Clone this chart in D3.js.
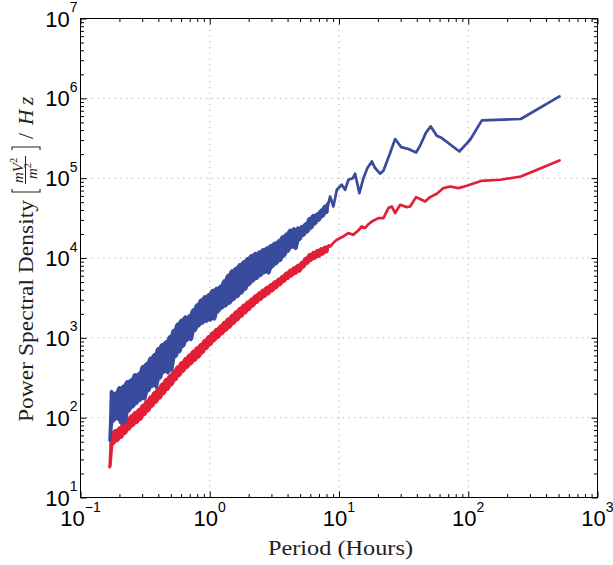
<!DOCTYPE html>
<html>
<head>
<meta charset="utf-8">
<script src="https://cdn.jsdelivr.net/npm/d3@7"></script>
<style>
  html, body { margin: 0; padding: 0; background: #ffffff; }
  svg { display: block; }
</style>
</head>
<body>
<svg id="chart" width="613" height="565"></svg>
<script>
// ---- Spectrum values (period in hours, PSD in (mV²/m²)/Hz) ----

// Densely sampled short-period part shared by both spectra.
const periodDense = [
  0.1679,0.1738,0.1799,0.1862,0.1928,0.1995,0.2065,0.2138,0.2213,0.2291,
  0.2371,0.2455,0.2541,0.2630,0.2723,0.2818,0.2917,0.3020,0.3126,0.3236,
  0.3350,0.3467,0.3589,0.3715,0.3846,0.3981,0.4121,0.4266,0.4416,0.4571,
  0.4732,0.4898,0.5070,0.5248,0.5433,0.5623,0.5821,0.6026,0.6237,0.6457,
  0.6683,0.6918,0.7161,0.7413,0.7674,0.7943,0.8222,0.8511,0.8810,0.9120,
  0.9441,0.9772,1.0116,1.0471,1.0839,1.1220,1.1614,1.2023,1.2445,1.2882,
  1.3335,1.3804,1.4289,1.4791,1.5311,1.5849,1.6406,1.6982,1.7579,1.8197,
  1.8836,1.9498,2.0184,2.0893,2.1627,2.2387,2.3174,2.3988,2.4831,2.5704,
  2.6607,2.7542,2.8510,2.9512,3.0549,3.1623,3.2734,3.3884,3.5075,3.6308,
  3.7584,3.8905,4.0272,4.1687,4.3152,4.4668,4.6238,4.7863,4.9545,5.1286,
  5.3088,5.4954,5.6885,5.8884,6.0954,6.3096,6.5313,6.7608,6.9984,7.2444,
  7.4989,7.7625,8.0353,8.3176
];

// Upper (blue) spectrum on the dense grid.
const upperDense = [
  52, 215, 90, 205, 96, 240, 84, 250, 88, 285,
  120, 300, 135, 350, 150, 360, 165, 440, 170, 480,
  215, 560, 245, 620, 240, 740, 310, 830, 370, 900,
  360, 1040, 400, 1250, 575, 1500, 660, 1680, 780, 1850,
  920, 1900, 940, 2250, 1220, 2600, 1400, 3000, 1520, 3300,
  1590, 3500, 1650, 3950, 1700, 4200, 2100, 4450, 2330, 5200,
  2500, 6100, 2700, 6950, 2990, 7500, 3250, 8300, 3600, 9000,
  4000, 9900, 4600, 10800, 5100, 11500, 5500, 12000, 6000, 12800,
  6500, 13500, 6400, 14400, 7700, 15500, 8400, 16500, 9200, 18500,
  10500, 20000, 12000, 22500, 13500, 23500, 13000, 24000, 16800, 25000,
  19000, 27000, 21000, 31500, 23500, 34500, 26500, 36000, 29500, 40000,
  33000, 45000, 37000, 50000
];

// Lower (red) spectrum on the dense grid.
const lowerDense = [
  24, 66, 47, 70, 51, 75, 56, 84, 63, 95,
  71, 106, 79, 117, 86, 127, 95, 144, 108, 162,
  121, 183, 138, 208, 155, 234, 175, 266, 199, 302,
  225, 338, 256, 388, 295, 436, 334, 492, 378, 552,
  422, 612, 468, 682, 518, 755, 570, 835, 645, 938,
  730, 1045, 815, 1165, 910, 1290, 1005, 1410, 1110, 1575,
  1230, 1740, 1350, 1925, 1505, 2130, 1665, 2340, 1840, 2580,
  2035, 2820, 2240, 3070, 2490, 3380, 2750, 3680, 3010, 4000,
  3270, 4320, 3530, 4660, 3850, 5060, 4210, 5460, 4580, 5950,
  5040, 6520, 5500, 7090, 5940, 7620, 6360, 8150, 6790, 8870,
  7620, 9980, 8490, 11080, 9290, 11840, 9840, 12520, 10390, 13200,
  11090, 13820, 11870, 14440
];

// Long-period part of the upper spectrum.
const upperTailPeriod = [
  8.53, 9.05, 9.62, 10.5, 11.15, 11.83, 12.79, 13.32, 14.38, 15.45,
  16.59, 17.94, 19.03, 20.8, 22.07, 24.86, 27.19, 30.25, 34.45, 39.5,
  42.4, 47.2, 51.3, 57.1, 62.5, 85.5, 103.4, 127.4, 255, 508
];
const upperTail = [
  59000, 44200, 71500, 82600, 71500, 95500, 100000, 113600, 65000, 100000,
  134000, 162000, 134000, 114000, 124000, 207000, 309000, 245000, 232000, 210000,
  255000, 375000, 445000, 340000, 318000, 216000, 303000, 530000, 551000, 1060000
];

// Long-period part of the lower spectrum.
const lowerTailPeriod = [
  8.53, 9.05, 9.62, 10.8, 11.8, 12.85, 14.1, 15.0, 15.9, 16.9,
  17.94, 20.2, 22.07, 24.1, 25.6, 27.2, 29.7, 33.5, 35.5, 39.5,
  42.4, 46.4, 50.7, 57.1, 64.3, 72.4, 84, 97.5, 127, 177,
  255, 508
];
const lowerTail = [
  13900, 15500, 16900, 18600, 20500, 19500, 22100, 24800, 23700, 26500,
  28600, 31600, 31600, 42200, 44200, 36500, 46400, 43400, 44200, 57900,
  54700, 51000, 57900, 63700, 75100, 78700, 75100, 80300, 92700, 95500,
  105000, 167000
];

// Axis decades (labels are drawn as 10^n).
const xTickExponents = [-1, 0, 1, 2, 3];
const yTickExponents = [1, 2, 3, 4, 5, 6, 7];
const xGridValues = [1, 10, 100];
const yGridValues = [1e2, 1e3, 1e4, 1e5, 1e6];

const xTitle = "Period (Hours)";
const yTitleMain = "Power Spectral Density";

// ---- Layout ----
const plot = { left: 80.5, right: 597.5, top: 18.5, bottom: 497.5 };
const fontSans = "'Liberation Sans', Arial, Helvetica, sans-serif";
const fontSerif = "'Liberation Serif', 'Times New Roman', serif";
const blue = "#394b9c";
const red = "#e21f36";
const lineWidth = 2.7;

const svg = d3.select("#chart");

const x = d3.scaleLog().domain([0.1, 1000]).range([plot.left, plot.right]);
const y = d3.scaleLog().domain([10, 1e7]).range([plot.bottom, plot.top]);

// minor tick positions 2..9 × 10^n inside each axis domain
function minorTicks(lo, hi) {
  const out = [];
  for (let e = lo; e < hi; e++) {
    for (let m = 2; m <= 9; m++) out.push(m * Math.pow(10, e));
  }
  return out;
}
const xMajor = xTickExponents.map(e => Math.pow(10, e));
const yMajor = yTickExponents.map(e => Math.pow(10, e));
const xMinor = minorTicks(-1, 3);
const yMinor = minorTicks(1, 7);

// ---- Grid ----
const grid = svg.append("g").attr("class", "grid")
  .attr("stroke", "#b4b4b4").attr("stroke-width", 1)
  .attr("stroke-dasharray", "1.3,4.4");
grid.selectAll("line.gx").data(xGridValues).join("line").attr("class", "gx")
  .attr("x1", d => x(d)).attr("x2", d => x(d))
  .attr("y1", plot.top).attr("y2", plot.bottom);
grid.selectAll("line.gy").data(yGridValues).join("line").attr("class", "gy")
  .attr("x1", plot.left).attr("x2", plot.right)
  .attr("y1", d => y(d)).attr("y2", d => y(d));

// ---- Series ----
const upperSeries = periodDense.map((p, i) => [p, upperDense[i]])
  .concat(upperTailPeriod.map((p, i) => [p, upperTail[i]]));
const lowerSeries = periodDense.map((p, i) => [p, lowerDense[i]])
  .concat(lowerTailPeriod.map((p, i) => [p, lowerTail[i]]));

// The dense part oscillates faster than the pixel grid can show, so the
// region swept by the trace (local min..max of neighbouring samples) is
// filled as a band underneath the line itself.
function sweptBand(values) {
  return periodDense.map((p, i) => {
    const win = values.slice(Math.max(0, i - 1), i + 2);
    return { p, lo: d3.min(win), hi: d3.max(win) };
  });
}
const band = d3.area()
  .x(d => x(d.p)).y0(d => y(d.lo)).y1(d => y(d.hi));
const line = d3.line().x(d => x(d[0])).y(d => y(d[1]));

function drawSeries(series, dense, color) {
  svg.append("path").datum(sweptBand(dense))
    .attr("fill", color).attr("stroke", "none").attr("d", band);
  svg.append("path").datum(series)
    .attr("fill", "none").attr("stroke", color).attr("stroke-width", lineWidth)
    .attr("stroke-linejoin", "round").attr("stroke-linecap", "round")
    .attr("d", line);
}
drawSeries(lowerSeries, lowerDense, red);
drawSeries(upperSeries, upperDense, blue);

// ---- Axes: inward ticks on all four sides ----
function drawAxis(gen, transform, values, size) {
  const g = svg.append("g").attr("transform", transform)
    .call(gen.tickValues(values).tickSize(-size).tickSizeOuter(0).tickFormat(""));
  g.select(".domain").remove();
  g.selectAll(".tick line").attr("stroke", "#000").attr("stroke-width", 1);
  return g;
}
const bY = `translate(0,${plot.bottom})`, tY = `translate(0,${plot.top})`;
const lX = `translate(${plot.left},0)`, rX = `translate(${plot.right},0)`;
drawAxis(d3.axisBottom(x), bY, xMajor, 6);
drawAxis(d3.axisBottom(x), bY, xMinor, 3.5);
drawAxis(d3.axisTop(x), tY, xMajor, 6);
drawAxis(d3.axisTop(x), tY, xMinor, 3.5);
drawAxis(d3.axisLeft(y), lX, yMajor, 6);
drawAxis(d3.axisLeft(y), lX, yMinor, 3.5);
drawAxis(d3.axisRight(y), rX, yMajor, 6);
drawAxis(d3.axisRight(y), rX, yMinor, 3.5);

svg.append("rect")
  .attr("x", plot.left).attr("y", plot.top)
  .attr("width", plot.right - plot.left).attr("height", plot.bottom - plot.top)
  .attr("fill", "none").attr("stroke", "#000").attr("stroke-width", 1);

// ---- Tick labels: 10 with a raised exponent ----
function expText(e) { return e < 0 ? "\u2212" + Math.abs(e) : String(e); }
const baseSize = 22, expSize = 14;

const xLab = svg.append("g").attr("font-family", fontSans).attr("fill", "#000");
xTickExponents.forEach(e => {
  const g = xLab.append("g");
  const t1 = g.append("text").attr("font-size", baseSize).text("10");
  const t2 = g.append("text").attr("font-size", expSize).text(expText(e));
  const w1 = t1.node().getComputedTextLength();
  const w2 = t2.node().getComputedTextLength();
  const start = x(Math.pow(10, e)) - (w1 + w2) / 2;
  t1.attr("x", start).attr("y", 526);
  t2.attr("x", start + w1).attr("y", 512);
});

const yLab = svg.append("g").attr("font-family", fontSans).attr("fill", "#000");
yTickExponents.forEach(e => {
  const g = yLab.append("g");
  const yy = y(Math.pow(10, e));
  const t2 = g.append("text").attr("font-size", expSize).attr("text-anchor", "end")
    .attr("x", 77.5).attr("y", yy - 6.5).text(expText(e));
  const w2 = t2.node().getComputedTextLength();
  g.append("text").attr("font-size", baseSize).attr("text-anchor", "end")
    .attr("x", 77.5 - w2).attr("y", yy + 8).text("10");
});

// ---- Axis titles ----
svg.append("text")
  .attr("x", 340.5).attr("y", 555)
  .attr("text-anchor", "middle")
  .attr("font-family", fontSerif).attr("font-size", 21.5).attr("fill", "#222")
  .attr("textLength", 145).attr("lengthAdjust", "spacingAndGlyphs")
  .text(xTitle);

// rotated y title with the [mV²/m²]/Hz unit
const yt = svg.append("g")
  .attr("transform", "translate(33,422) rotate(-90)")
  .attr("fill", "#222").attr("font-family", fontSerif);
yt.append("text").attr("x", 0).attr("y", 0).attr("font-size", 21.5)
  .attr("textLength", 222).attr("lengthAdjust", "spacingAndGlyphs")
  .text(yTitleMain);

// left bracket
yt.append("path").attr("fill", "none").attr("stroke", "#222").attr("stroke-width", 1.1)
  .attr("d", "M233,-21 L230,-21 L230,7 L233,7");
// numerator mV^2
const num = yt.append("text").attr("y", -10.5).attr("font-size", 15).attr("font-style", "italic");
num.append("tspan").attr("x", 239).text("mV");
num.append("tspan").attr("font-size", 10.5).attr("font-style", "normal").attr("dy", -6).text("2");
// fraction bar
yt.append("line").attr("x1", 238).attr("x2", 266).attr("y1", -7.5).attr("y2", -7.5)
  .attr("stroke", "#222").attr("stroke-width", 1);
// denominator m^2
const den = yt.append("text").attr("y", 4).attr("font-size", 15).attr("font-style", "italic");
den.append("tspan").attr("x", 243).text("m");
den.append("tspan").attr("font-size", 10.5).attr("font-style", "normal").attr("dy", -6).text("2");
// right bracket
yt.append("path").attr("fill", "none").attr("stroke", "#222").attr("stroke-width", 1.1)
  .attr("d", "M272,-21 L275,-21 L275,7 L272,7");
// /Hz
yt.append("text").attr("x", 283).attr("y", 0).attr("font-size", 21.5).text("/");
yt.append("text").attr("x", 297).attr("y", 0).attr("font-size", 21.5)
  .attr("font-style", "italic").text("H");
yt.append("text").attr("x", 317).attr("y", 0).attr("font-size", 21.5)
  .attr("font-style", "italic").text("z");
</script>
</body>
</html>
